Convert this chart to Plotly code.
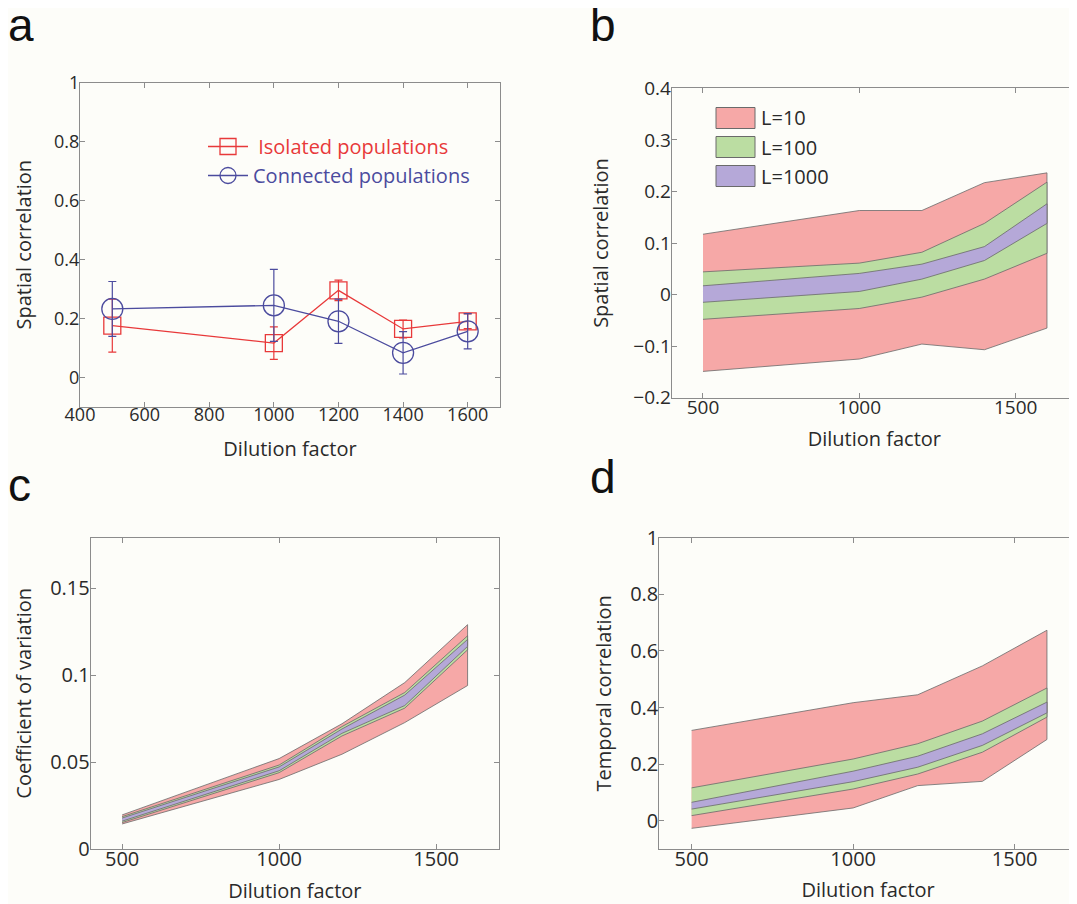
import plotly.graph_objects as go

# ---------------- data ----------------
dilution = [500, 1000, 1200, 1400, 1600]

# panel a
iso_mean = [0.175, 0.116, 0.295, 0.164, 0.190]
iso_err = [0.090, 0.055, 0.035, 0.030, 0.025]
con_mean = [0.232, 0.244, 0.190, 0.083, 0.156]
con_err = [0.093, 0.122, 0.075, 0.072, 0.060]

# panel b (spatial correlation bands)
b_L10_hi = [0.117, 0.163, 0.163, 0.217, 0.236]
b_L10_lo = [-0.149, -0.125, -0.096, -0.107, -0.065]
b_L100_hi = [0.044, 0.061, 0.082, 0.138, 0.218]
b_L100_lo = [-0.048, -0.027, -0.005, 0.030, 0.080]
b_L1000_hi = [0.017, 0.041, 0.059, 0.093, 0.176]
b_L1000_lo = [-0.015, 0.006, 0.030, 0.066, 0.138]

# panel c (coefficient of variation bands)
c_L10_hi = [0.0196, 0.0520, 0.0720, 0.0957, 0.1290]
c_L10_lo = [0.0144, 0.0400, 0.0545, 0.0727, 0.0940]
c_L100_hi = [0.0186, 0.0483, 0.0704, 0.0900, 0.1226]
c_L100_lo = [0.0152, 0.0439, 0.0650, 0.0810, 0.1145]
c_L1000_hi = [0.0178, 0.0472, 0.0690, 0.0885, 0.1205]
c_L1000_lo = [0.0160, 0.0450, 0.0665, 0.0825, 0.1165]

# panel d (temporal correlation bands)
d_L10_hi = [0.319, 0.417, 0.445, 0.547, 0.673]
d_L10_lo = [-0.027, 0.045, 0.124, 0.139, 0.287]
d_L100_hi = [0.116, 0.218, 0.272, 0.352, 0.469]
d_L100_lo = [0.018, 0.112, 0.165, 0.242, 0.366]
d_L1000_hi = [0.065, 0.175, 0.228, 0.307, 0.419]
d_L1000_lo = [0.041, 0.138, 0.189, 0.266, 0.381]

band_names = ["L=10", "L=100", "L=1000"]
panel_letters = ["a", "b", "c", "d"]

# ---------------- style ----------------
OFF = 8                     # page body margin
W, H = 1077 - OFF, 904 - OFF
BG = "#fdfdf9"
RED = "#e8393a"
BLUE = "#4b4b9e"
FILLS = ["#f6a8a7", "#bbdda2", "#b5a8d8"]
EDGE = "#6a6a6a"
AXIS = "#8c8c8c"
TXT = "#2a2a2a"
FONT = "Open Sans"


def px_x(p):
    return (p - OFF) / W


def px_y(p):
    return 1 - (p - OFF) / H


fig = go.Figure()


def band(xa, ya, lo, hi, color, name):
    fig.add_trace(go.Scatter(
        x=list(dilution) + list(dilution)[::-1],
        y=list(hi) + list(lo)[::-1],
        fill="toself", fillcolor=color, mode="lines",
        line=dict(color=EDGE, width=0.8), name=name,
        showlegend=False, xaxis=xa, yaxis=ya, hoverinfo="skip"))


# panel a
fig.add_trace(go.Scatter(
    x=dilution, y=iso_mean, mode="lines+markers",
    name="<span style='color:%s'>&nbsp;Isolated populations</span>" % RED,
    line=dict(color=RED, width=1.3),
    marker=dict(symbol="square-open", size=17, color=RED, line=dict(width=1.3)),
    error_y=dict(type="data", array=iso_err, color=RED, thickness=1.2, width=4),
    xaxis="x", yaxis="y", legend="legend"))
fig.add_trace(go.Scatter(
    x=dilution, y=con_mean, mode="lines+markers",
    name="<span style='color:%s'>Connected populations</span>" % BLUE,
    line=dict(color=BLUE, width=1.3),
    marker=dict(symbol="circle-open", size=21, color=BLUE, line=dict(width=1.3)),
    error_y=dict(type="data", array=con_err, color=BLUE, thickness=1.2, width=4),
    xaxis="x", yaxis="y", legend="legend"))

# panel b, c, d bands
for (xa, ya, sets) in [
    ("x2", "y2", [(b_L10_lo, b_L10_hi), (b_L100_lo, b_L100_hi), (b_L1000_lo, b_L1000_hi)]),
    ("x3", "y3", [(c_L10_lo, c_L10_hi), (c_L100_lo, c_L100_hi), (c_L1000_lo, c_L1000_hi)]),
    ("x4", "y4", [(d_L10_lo, d_L10_hi), (d_L100_lo, d_L100_hi), (d_L1000_lo, d_L1000_hi)]),
]:
    for (lo, hi), col, nm in zip(sets, FILLS, band_names):
        band(xa, ya, lo, hi, col, nm)


def axis_common(size, letter):
    return dict(showline=True, linecolor=AXIS, linewidth=1, mirror="ticks",
                ticks="inside", ticklen=5, tickcolor=AXIS, showgrid=False,
                zeroline=False, automargin=False,
                ticklabelstandoff=(-8 if letter == "x" else -4),
                tickfont=dict(family=FONT, size=size, color=TXT),
                title_font=dict(family=FONT, size=20, color=TXT))


layout = dict(
    width=W, height=H, margin=dict(l=0, r=0, t=0, b=0, autoexpand=False),
    paper_bgcolor=BG, plot_bgcolor=BG, showlegend=True,
    font=dict(family=FONT, color=TXT),
)

# panel a axes
layout["xaxis"] = dict(axis_common(18, "x"), domain=[px_x(80), px_x(500)], range=[400, 1700],
                       tickvals=[400, 600, 800, 1000, 1200, 1400, 1600],
                       title=dict(text="Dilution factor", standoff=16), anchor="y")
layout["yaxis"] = dict(axis_common(18, "y"), domain=[px_y(406.7), px_y(82.7)], range=[-0.1, 1],
                       tickvals=[0, 0.2, 0.4, 0.6, 0.8, 1],
                       title=dict(text="Spatial correlation", standoff=17), anchor="x")
# panel b axes
layout["xaxis2"] = dict(axis_common(19, "x"), domain=[px_x(671.7), 1.0], range=[400, 1696],
                        tickvals=[500, 1000, 1500],
                        title=dict(text="Dilution factor", standoff=13), anchor="y2")
layout["yaxis2"] = dict(axis_common(19, "y"), domain=[px_y(397.7), px_y(88.3)], range=[-0.2, 0.4],
                        tickvals=[-0.2, -0.1, 0, 0.1, 0.2, 0.3, 0.4],
                        title=dict(text="Spatial correlation", standoff=19), anchor="x2")
# panel c axes
layout["xaxis3"] = dict(axis_common(20, "x"), domain=[px_x(90.7), px_x(499)], range=[400, 1700],
                        tickvals=[500, 1000, 1500],
                        title=dict(text="Dilution factor", standoff=13), anchor="y3")
layout["yaxis3"] = dict(axis_common(20, "y"), domain=[px_y(849), px_y(537.7)], range=[0, 0.179],
                        tickvals=[0, 0.05, 0.1, 0.15],
                        title=dict(text="Coefficient of variation", standoff=13), anchor="x3")
# panel d axes
layout["xaxis4"] = dict(axis_common(20, "x"), domain=[px_x(659.3), 1.0], range=[400, 1693],
                        tickvals=[500, 1000, 1500],
                        title=dict(text="Dilution factor", standoff=11), anchor="y4")
layout["yaxis4"] = dict(axis_common(20, "y"), domain=[px_y(849), px_y(537.7)], range=[-0.1, 1],
                        tickvals=[0, 0.2, 0.4, 0.6, 0.8, 1],
                        title=dict(text="Temporal correlation", standoff=13), anchor="x4")

layout["legend"] = dict(x=px_x(203), y=px_y(127), xanchor="left", yanchor="top",
                        bgcolor="rgba(0,0,0,0)", borderwidth=0,
                        font=dict(family=FONT, size=20), tracegroupgap=0,
                        itemwidth=40)

fig.update_layout(**layout)

# panel letters (fixed-height boxes so they stay inside the page)
for letter, (lx, lb) in zip(panel_letters, [(6, 53), (588, 53), (6, 513), (588, 505)]):
    fig.add_annotation(text=letter, x=px_x(lx), y=px_y(lb), xref="paper", yref="paper",
                       xanchor="left", yanchor="bottom", showarrow=False,
                       height=44, valign="bottom",
                       font=dict(family="Liberation Sans", size=46, color="#111111"))

# panel b legend (patch + label)
for i, (nm, col) in enumerate(zip(band_names, FILLS)):
    cy = 118 + 29 * i
    fig.add_shape(type="rect", xref="paper", yref="paper",
                  x0=px_x(716), x1=px_x(755), y0=px_y(cy + 10.5), y1=px_y(cy - 10.5),
                  fillcolor=col, line=dict(color=EDGE, width=1))
    fig.add_annotation(text=nm, x=px_x(759), y=px_y(cy), xref="paper", yref="paper",
                       xanchor="left", yanchor="middle", showarrow=False,
                       font=dict(family=FONT, size=20, color=TXT))

fig.write_html("out.html")
